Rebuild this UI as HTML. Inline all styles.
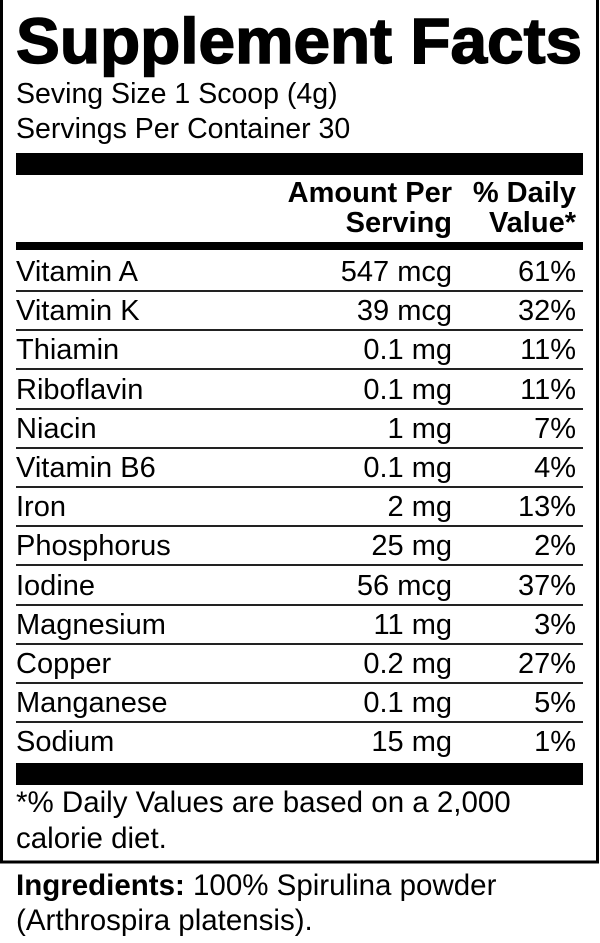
<!DOCTYPE html>
<html><head><style>html,body{margin:0;padding:0;background:#fff}</style></head><body>
<svg width="600" height="938" xmlns="http://www.w3.org/2000/svg" font-family="Liberation Sans, Arial, sans-serif">
<rect x="1.5" y="-2" width="596" height="864" fill="none" stroke="#000" stroke-width="3"/>
<text x="16" y="63" font-size="64" font-weight="bold" textLength="566" lengthAdjust="spacingAndGlyphs" stroke="#000" stroke-width="1.5">Supplement Facts</text>
<text x="16" y="103" font-size="28.5">Seving Size 1 Scoop (4g)</text>
<text x="16" y="138" font-size="28.5">Servings Per Container 30</text>
<rect x="16" y="153" width="567" height="22" fill="#000"/>
<g font-size="29" font-weight="bold" text-anchor="end">
<text x="452" y="202">Amount Per</text><text x="452" y="232">Serving</text>
<text x="576" y="202">% Daily</text><text x="576" y="232">Value*</text>
</g>
<rect x="16" y="242" width="567" height="8" fill="#000"/>
<g font-size="29">
<text x="16" y="281">Vitamin A</text><text x="452" y="281" text-anchor="end">547 mcg</text><text x="576" y="281" text-anchor="end">61%</text>
<rect x="16" y="290" width="567" height="2" fill="#222"/>
<text x="16" y="320">Vitamin K</text><text x="452" y="320" text-anchor="end">39 mcg</text><text x="576" y="320" text-anchor="end">32%</text>
<rect x="16" y="329" width="567" height="2" fill="#222"/>
<text x="16" y="359">Thiamin</text><text x="452" y="359" text-anchor="end">0.1 mg</text><text x="576" y="359" text-anchor="end">11%</text>
<rect x="16" y="368" width="567" height="2" fill="#222"/>
<text x="16" y="399">Riboflavin</text><text x="452" y="399" text-anchor="end">0.1 mg</text><text x="576" y="399" text-anchor="end">11%</text>
<rect x="16" y="408" width="567" height="2" fill="#222"/>
<text x="16" y="438">Niacin</text><text x="452" y="438" text-anchor="end">1 mg</text><text x="576" y="438" text-anchor="end">7%</text>
<rect x="16" y="447" width="567" height="2" fill="#222"/>
<text x="16" y="477">Vitamin B6</text><text x="452" y="477" text-anchor="end">0.1 mg</text><text x="576" y="477" text-anchor="end">4%</text>
<rect x="16" y="486" width="567" height="2" fill="#222"/>
<text x="16" y="516">Iron</text><text x="452" y="516" text-anchor="end">2 mg</text><text x="576" y="516" text-anchor="end">13%</text>
<rect x="16" y="525" width="567" height="2" fill="#222"/>
<text x="16" y="555">Phosphorus</text><text x="452" y="555" text-anchor="end">25 mg</text><text x="576" y="555" text-anchor="end">2%</text>
<rect x="16" y="564" width="567" height="2" fill="#222"/>
<text x="16" y="595">Iodine</text><text x="452" y="595" text-anchor="end">56 mcg</text><text x="576" y="595" text-anchor="end">37%</text>
<rect x="16" y="604" width="567" height="2" fill="#222"/>
<text x="16" y="634">Magnesium</text><text x="452" y="634" text-anchor="end">11 mg</text><text x="576" y="634" text-anchor="end">3%</text>
<rect x="16" y="643" width="567" height="2" fill="#222"/>
<text x="16" y="673">Copper</text><text x="452" y="673" text-anchor="end">0.2 mg</text><text x="576" y="673" text-anchor="end">27%</text>
<rect x="16" y="682" width="567" height="2" fill="#222"/>
<text x="16" y="712">Manganese</text><text x="452" y="712" text-anchor="end">0.1 mg</text><text x="576" y="712" text-anchor="end">5%</text>
<rect x="16" y="721" width="567" height="2" fill="#222"/>
<text x="16" y="751">Sodium</text><text x="452" y="751" text-anchor="end">15 mg</text><text x="576" y="751" text-anchor="end">1%</text>
</g>
<rect x="16" y="763" width="567" height="22" fill="#000"/>
<text x="16" y="812" font-size="29.5">*% Daily Values are based on a 2,000</text>
<text x="16" y="848" font-size="29.5">calorie diet.</text>
<text x="16" y="895" font-size="29.5"><tspan font-weight="bold">Ingredients:</tspan> 100% Spirulina powder</text>
<text x="16" y="930" font-size="29.5">(Arthrospira platensis).</text>
</svg>
</body></html>
